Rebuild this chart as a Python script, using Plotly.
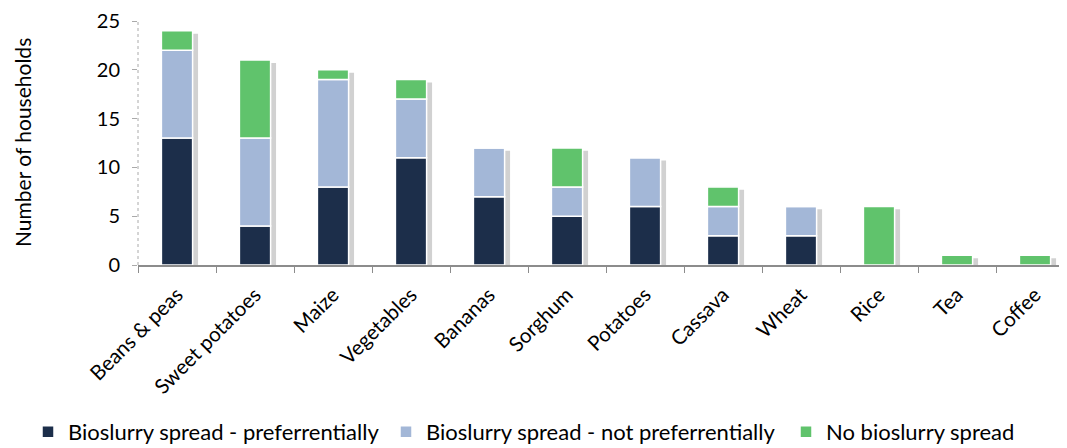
import plotly.graph_objects as go

categories = ["Beans & peas", "Sweet potatoes", "Maize", "Vegetables", "Bananas", "Sorghum",
              "Potatoes", "Cassava", "Wheat", "Rice", "Tea", "Coffee"]
pref = [13, 4, 8, 11, 7, 5, 6, 3, 3, 0, 0, 0]
not_pref = [9, 9, 11, 6, 5, 3, 5, 3, 3, 0, 0, 0]
no_spread = [2, 8, 1, 2, 0, 4, 0, 2, 0, 6, 1, 1]
series_names = ["Bioslurry spread - preferrentially", "Bioslurry spread - not preferrentially",
                "No bioslurry spread"]
colors = ["#1C2E4A", "#A3B7D7", "#60C36C"]

FONT = "Lato"
LFONT = "Liberation Sans Narrow, Lato"
W = 0.4
base2 = pref
base3 = [a + b for a, b in zip(pref, not_pref)]
totals = [a + b for a, b in zip(base3, no_spread)]

# page has an 8px body margin: figure coordinates are page coordinates minus 8
FW, FH = 1059, 440
OFF = 8

fig = go.Figure()
fig.add_trace(go.Bar(x=categories, y=[t - 0.3 if t > 0 else 0 for t in totals], base=0,
                     width=W, offset=-W / 2 + 0.07,
                     marker=dict(color="rgba(0,0,0,0.18)", line=dict(width=0)),
                     showlegend=False, hoverinfo="skip"))
legend_ids = ["legend", "legend2", "legend3"]
for vals, base, name, col, lid in zip([pref, not_pref, no_spread], [0, base2, base3],
                                      series_names, colors, legend_ids):
    fig.add_trace(go.Bar(x=categories, y=vals, base=base, name=name, width=W, offset=-W / 2,
                         legend=lid,
                         marker=dict(color=col, line=dict(color="white", width=1.5))))

PW = 929.0
def leg(xpix):
    return dict(orientation="h", x=(xpix - OFF) / FW, xanchor="left", xref="container",
                y=(448 - 432) / FH, yref="container", yanchor="middle",
                font=dict(family=LFONT, size=22), itemwidth=30, bgcolor="rgba(0,0,0,0)")

fig.update_layout(
    barmode="overlay",
    width=FW, height=FH,
    margin=dict(l=138 - OFF, r=0, t=21 - OFF, b=FH - (265 - OFF), autoexpand=False),
    paper_bgcolor="white", plot_bgcolor="white",
    font=dict(family=FONT, size=20, color="black"),
    legend=leg(28), legend2=leg(386), legend3=leg(786),
    xaxis=dict(type="category", range=[-0.5, 11.41], showline=True, linecolor="#8c8c8c",
               linewidth=1.5, ticks="outside", tickson="boundaries", ticklen=6,
               tickcolor="#8c8c8c", tickangle=-45, showgrid=False, automargin=False,
               ticklabelstandoff=8, tickfont=dict(family=FONT, size=20.5)),
    yaxis=dict(range=[0, 25], tickvals=[0, 5, 10, 15, 20, 25], showline=False, showgrid=False,
               ticks="outside", ticklen=5, tickcolor="#aaaaaa", zeroline=False, automargin=False,
               ticklabelstandoff=8, tickfont=dict(family=FONT, size=20)),
    shapes=[dict(type="line", xref="paper", yref="paper", x0=0, x1=0, y0=0, y1=1,
                 line=dict(color="#aaaaaa", width=1, dash="dot"))],
    annotations=[dict(text="Number of households", xref="paper", yref="paper",
                      x=(22 - 138) / PW, y=0.5, textangle=-90, showarrow=False,
                      xanchor="center", yanchor="middle", font=dict(family=FONT, size=21))],
)
fig.write_html("out.html")
